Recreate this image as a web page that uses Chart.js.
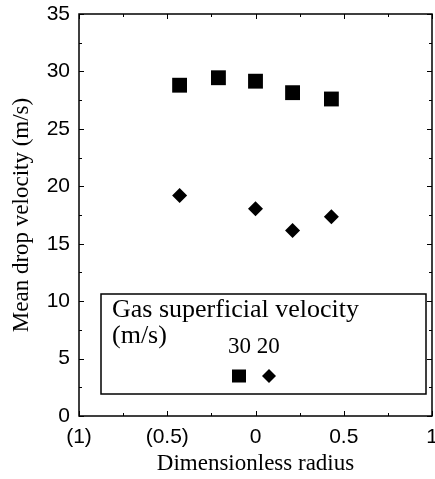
<!DOCTYPE html>
<html>
<head>
<meta charset="utf-8">
<script src="https://cdn.jsdelivr.net/npm/chart.js@4.4.1/dist/chart.umd.min.js"></script>
<style>
  html, body { margin: 0; padding: 0; background: #fff; }
  #wrap { width: 435px; height: 479px; }
</style>
</head>
<body>
<div id="wrap"><canvas id="drop-chart" width="435" height="479"></canvas></div>
<script>
// radial positions (r/R) and mean drop velocities
const radius30 = [-0.43, -0.21, 0, 0.21, 0.43];
const velocity30 = [28.8, 29.45, 29.15, 28.15, 27.6];
const radius20 = [-0.43, 0, 0.21, 0.43];
const velocity20 = [19.2, 18.05, 16.15, 17.35];

const xTicks = [-1, -0.5, 0, 0.5, 1];
const yTicks = [0, 5, 10, 15, 20, 25, 30, 35];
const legendTitle = ['Gas superficial velocity', '(m/s)'];
const legendLabels = ['30', '20'];

const SERIF = "'Liberation Serif', 'Times New Roman', serif";
const SANS = "'Liberation Sans', Arial, sans-serif";

function toPoints(xs, ys) {
  return xs.map((x, i) => ({ x, y: ys[i] }));
}

// box frame, inward ticks and the boxed legend
const framePlugin = {
  id: 'frame',
  afterDraw(chart) {
    const { ctx, chartArea: a, scales } = chart;
    const xs = scales.x, ys = scales.y;
    ctx.save();
    ctx.strokeStyle = '#000';
    ctx.lineWidth = 1.5;
    ctx.strokeRect(a.left, a.top, a.right - a.left, a.bottom - a.top);

    ctx.lineWidth = 1;
    ctx.beginPath();
    for (let v = 0; v <= 35; v += 2.5) {
      const py = Math.round(ys.getPixelForValue(v)) + 0.5;
      const len = v % 5 === 0 ? 5 : 3;
      ctx.moveTo(a.left, py); ctx.lineTo(a.left + len, py);
      ctx.moveTo(a.right, py); ctx.lineTo(a.right - len, py);
    }
    for (let v = -1; v <= 1.001; v += 0.25) {
      const px = Math.round(xs.getPixelForValue(v)) + 0.5;
      const len = Math.abs(v * 2 - Math.round(v * 2)) < 1e-6 ? 5 : 3;
      ctx.moveTo(px, a.bottom); ctx.lineTo(px, a.bottom - len);
      ctx.moveTo(px, a.top); ctx.lineTo(px, a.top + len);
    }
    ctx.stroke();

    // legend box
    const bx0 = a.left + 22, bx1 = a.right - 6;
    const by0 = a.top + 280, by1 = a.top + 380;
    ctx.lineWidth = 1.5;
    ctx.fillStyle = '#fff';
    ctx.fillRect(bx0, by0, bx1 - bx0, by1 - by0);
    ctx.strokeRect(bx0, by0, bx1 - bx0, by1 - by0);

    ctx.fillStyle = '#000';
    ctx.textAlign = 'left';
    ctx.textBaseline = 'alphabetic';
    ctx.font = '26px ' + SERIF;
    ctx.fillText(legendTitle[0], bx0 + 11, by0 + 23);
    ctx.fillText(legendTitle[1], bx0 + 11, by0 + 49);
    ctx.font = '23px ' + SERIF;
    ctx.fillText(legendLabels[0] + ' ' + legendLabels[1], bx0 + 127, by0 + 59);

    const my = by0 + 82;
    ctx.fillRect(bx0 + 131, my - 6.5, 14, 13);
    ctx.beginPath();
    ctx.moveTo(bx0 + 168 - 7, my);
    ctx.lineTo(bx0 + 168, my - 7);
    ctx.lineTo(bx0 + 168 + 7, my);
    ctx.lineTo(bx0 + 168, my + 7);
    ctx.closePath();
    ctx.fill();
    ctx.restore();
  }
};

const ctx = document.getElementById('drop-chart').getContext('2d');

new Chart(ctx, {
  type: 'scatter',
  data: {
    datasets: [{
      label: '30',
      data: toPoints(radius30, velocity30),
      pointStyle: 'rect',
      pointRadius: 10.5,
      pointBackgroundColor: '#000',
      pointBorderColor: '#000',
      pointBorderWidth: 0,
    }, {
      label: '20',
      data: toPoints(radius20, velocity20),
      pointStyle: 'rectRot',
      pointRadius: 7.5,
      pointBackgroundColor: '#000',
      pointBorderColor: '#000',
      pointBorderWidth: 0,
    }],
  },
  options: {
    responsive: false,
    animation: false,
    layout: { autoPadding: false, padding: { top: 14, right: 3, left: 0, bottom: 0 } },
    plugins: {
      legend: { display: false },
      tooltip: { enabled: false },
    },
    scales: {
      x: {
        type: 'linear',
        min: -1,
        max: 1,
        afterBuildTicks: s => { s.ticks = xTicks.map(value => ({ value })); },
        afterFit: s => { s.height = 63; s.paddingLeft = 0; s.paddingRight = 0; },
        grid: { display: false, drawTicks: false, tickLength: 0 },
        border: { display: false },
        ticks: {
          color: '#000',
          padding: 9,
          maxRotation: 0,
          font: { family: SANS, size: 21 },
          callback: v => v < 0 ? `(${Math.abs(v)})` : `${v}`,
        },
        title: {
          display: true,
          text: 'Dimensionless radius',
          color: '#000',
          font: { family: SERIF, size: 23 },
          padding: { top: 0, bottom: 1 },
        },
      },
      y: {
        type: 'linear',
        min: 0,
        max: 35,
        afterBuildTicks: s => { s.ticks = yTicks.map(value => ({ value })); },
        afterFit: s => { s.width = 79; s.paddingTop = 0; s.paddingBottom = 0; },
        grid: { display: false, drawTicks: false, tickLength: 0 },
        border: { display: false },
        ticks: {
          color: '#000',
          padding: 9,
          font: { family: SANS, size: 21 },
        },
        title: {
          display: true,
          text: 'Mean drop velocity (m/s)',
          color: '#000',
          font: { family: SERIF, size: 23 },
          padding: { top: 8, bottom: 0 },
        },
      },
    },
  },
  plugins: [framePlugin],
});
</script>
</body>
</html>
